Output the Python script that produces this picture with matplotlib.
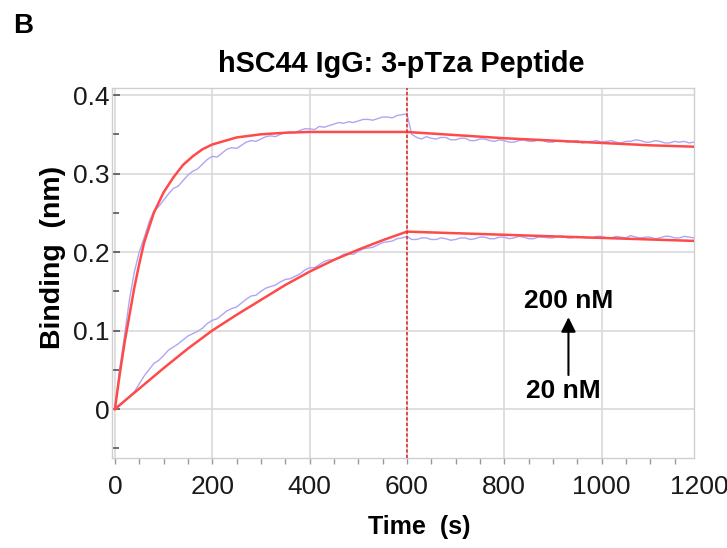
import matplotlib
matplotlib.use("Agg")
import matplotlib.pyplot as plt
from matplotlib.ticker import MultipleLocator, FixedLocator

plt.rcParams['font.family'] = ['Liberation Sans', 'DejaVu Sans']

# ---------------- data ----------------
title = "hSC44 IgG: 3-pTza Peptide"
panel_label = "B"
x_label = "Time  (s)"
y_label = "Binding  (nm)"
x_ticks = [0, 200, 400, 600, 800, 1000, 1200]
y_ticks = [0, 0.1, 0.2, 0.3, 0.4]
y_tick_labels = ["0", "0.1", "0.2", "0.3", "0.4"]
concentration_labels = ["200 nM", "20 nM"]
switch_time = 600

# raw sensorgrams, sampled every 10 s from 0 to 1200 s
raw_t = list(range(0, 1201, 10))
raw_200 = [
    0.000, 0.052, 0.095, 0.140, 0.175, 0.200, 0.218, 0.238, 0.252, 0.258,
    0.266, 0.274, 0.281, 0.284, 0.291, 0.298, 0.303, 0.306, 0.312, 0.318,
    0.322, 0.321, 0.326, 0.331, 0.333, 0.332, 0.336, 0.340, 0.342, 0.341,
    0.344, 0.347, 0.348, 0.347, 0.350, 0.352, 0.353, 0.352, 0.355, 0.357,
    0.357, 0.356, 0.360, 0.359, 0.361, 0.363, 0.365, 0.364, 0.366, 0.365,
    0.367, 0.369, 0.369, 0.368, 0.370, 0.372, 0.372, 0.371, 0.374, 0.375,
    0.376,
    0.350, 0.346, 0.344, 0.347, 0.345, 0.344, 0.346, 0.346, 0.343, 0.343,
    0.345, 0.345, 0.342, 0.342, 0.344, 0.344, 0.342, 0.341, 0.343, 0.342,
    0.340, 0.340, 0.342, 0.343, 0.341, 0.341, 0.343, 0.342, 0.340, 0.340,
    0.342, 0.342, 0.340, 0.341, 0.342, 0.339, 0.340, 0.341, 0.342, 0.340,
    0.341, 0.342, 0.340, 0.339, 0.341, 0.341, 0.343, 0.342, 0.340, 0.340,
    0.342, 0.341, 0.339, 0.339, 0.341, 0.340, 0.341, 0.339, 0.340, 0.340,
]
raw_20 = [
    0.000, 0.004, 0.010, 0.016, 0.022, 0.032, 0.042, 0.050, 0.058, 0.062,
    0.068, 0.075, 0.079, 0.083, 0.088, 0.093, 0.096, 0.099, 0.103, 0.109,
    0.113, 0.115, 0.120, 0.125, 0.128, 0.130, 0.135, 0.140, 0.144, 0.145,
    0.150, 0.154, 0.156, 0.158, 0.162, 0.165, 0.166, 0.169, 0.172, 0.177,
    0.180, 0.180, 0.184, 0.188, 0.190, 0.190, 0.193, 0.197, 0.198, 0.197,
    0.201, 0.204, 0.205, 0.206, 0.209, 0.212, 0.213, 0.214, 0.217, 0.218,
    0.220,
    0.216, 0.216, 0.218, 0.218, 0.216, 0.216, 0.218, 0.217, 0.215, 0.216,
    0.218, 0.218, 0.216, 0.217, 0.219, 0.219, 0.217, 0.217, 0.219, 0.219,
    0.217, 0.218, 0.220, 0.219, 0.217, 0.217, 0.219, 0.219, 0.218, 0.218,
    0.220, 0.220, 0.218, 0.218, 0.220, 0.219, 0.218, 0.218, 0.220, 0.220,
    0.218, 0.218, 0.220, 0.219, 0.218, 0.221, 0.219, 0.218, 0.219, 0.219,
    0.217, 0.218, 0.220, 0.220, 0.218, 0.218, 0.220, 0.219, 0.218, 0.219,
]

# fitted curves
fit200_t = [0, 10, 20, 30, 40, 50, 60, 80, 100, 120, 140, 160, 180, 200, 250,
            300, 350, 400, 500, 600, 700, 800, 900, 1000, 1100, 1200]
fit200_v = [0.000, 0.045, 0.085, 0.120, 0.155, 0.185, 0.212, 0.250, 0.276, 0.295,
            0.311, 0.322, 0.331, 0.337, 0.346, 0.350, 0.352, 0.353, 0.353, 0.353,
            0.349, 0.345, 0.342, 0.339, 0.336, 0.334]
fit20_t = [0, 50, 100, 150, 200, 250, 300, 350, 400, 450, 500, 550, 600,
           700, 800, 900, 1000, 1100, 1200]
fit20_v = [0.000, 0.026, 0.052, 0.077, 0.100, 0.120, 0.139, 0.158, 0.175, 0.190,
           0.203, 0.215, 0.226, 0.224, 0.222, 0.220, 0.218, 0.216, 0.214]

# ---------------- figure ----------------
fig = plt.figure(figsize=(7.27, 5.48), dpi=100)
ax = fig.add_axes([112 / 727, 1 - 458 / 548, (694 - 112) / 727, (458 - 88) / 548])

raw_color = "#aea6f2"
fit_color = "#ff4a4a"

ax.plot(raw_t, raw_200, color=raw_color, lw=1.0, zorder=3)
ax.plot(raw_t, raw_20, color=raw_color, lw=1.0, zorder=3)
ax.plot(fit200_t, fit200_v, color=fit_color, lw=1.8, zorder=4)
ax.plot(fit20_t, fit20_v, color=fit_color, lw=1.8, zorder=4)
ax.axvline(switch_time, color="#e0302f", lw=1.2, ls=(0, (2, 1.2)), zorder=5)

ymin, ymax = -0.0624, 0.409
ax.set_xlim(-6, 1190)
ax.set_ylim(ymin, ymax)

ax.xaxis.set_major_locator(FixedLocator(x_ticks))
ax.xaxis.set_minor_locator(MultipleLocator(50))
ax.yaxis.set_major_locator(FixedLocator(y_ticks))
ax.yaxis.set_minor_locator(MultipleLocator(0.05))
ax.set_yticklabels(y_tick_labels)

ax.grid(True, which="major", color="#d9d9d9", lw=1.2, zorder=0)
ax.set_axisbelow(True)
for s in ax.spines.values():
    s.set_color("#cfcfcf")
    s.set_linewidth(1.0)

ax.tick_params(axis="y", which="both", direction="in", color="#555555",
               labelsize=19, labelcolor="#1a1a1a", pad=2)
ax.tick_params(axis="y", which="major", length=6, width=1.2)
ax.tick_params(axis="y", which="minor", length=5, width=1.2)
ax.tick_params(axis="x", which="both", direction="out", color="#9a9a9a",
               labelsize=19, labelcolor="#1a1a1a", pad=8)
ax.tick_params(axis="x", which="major", length=4, width=1.0)
ax.tick_params(axis="x", which="minor", length=4, width=1.0)

# the last tick label sits just beyond the frame
ax.text(x_ticks[-1], ymin - 17 / 785, str(x_ticks[-1]),
        ha="center", va="top", fontsize=19, color="#1a1a1a", clip_on=False)

# concentration annotations
ax.text(932, 0.1287, concentration_labels[0], ha="center", va="baseline",
        fontsize=19, fontweight="bold")
ax.text(922, 0.014, concentration_labels[1], ha="center", va="baseline",
        fontsize=19, fontweight="bold")
ax.annotate("", xy=(932, 0.117), xytext=(932, 0.0433),
            arrowprops=dict(arrowstyle="-|>", lw=1.5, color="black",
                            mutation_scale=22, shrinkA=0, shrinkB=0))

fig.text(401 / 727, 1 - 72 / 548, title, ha="center", va="baseline",
         fontsize=20.8, fontweight="bold")
fig.text(13 / 727, 1 - 33 / 548, panel_label, ha="left", va="baseline",
         fontsize=20, fontweight="bold")
fig.text(419 / 727, 1 - 527 / 548, x_label, ha="center", va="center",
         fontsize=18, fontweight="bold")
fig.text(53 / 727, 1 - 257 / 548, y_label, ha="center", va="center",
         rotation=90, fontsize=20.5, fontweight="bold")

fig.savefig("out.png", dpi=100)
